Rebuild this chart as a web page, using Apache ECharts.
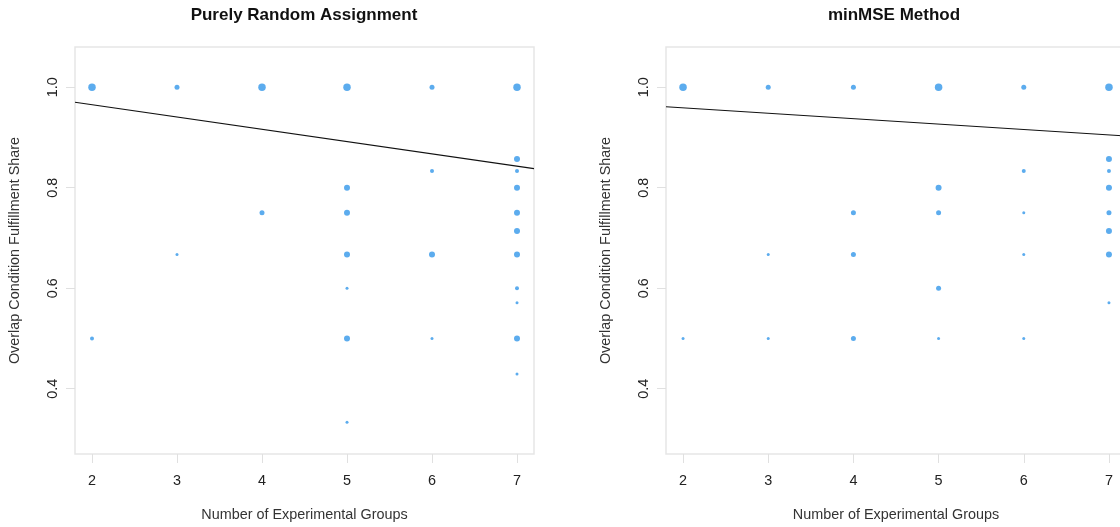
<!DOCTYPE html>
<html>
<head>
<meta charset="utf-8">
<script src="https://cdn.jsdelivr.net/npm/echarts@6/dist/echarts.min.js"></script>
<style>
html,body{margin:0;padding:0;background:#fff;overflow:hidden;}
#chart{width:1126px;height:527px;}
</style>
</head>
<body>
<div id="chart"></div>
<script>
// ---- data ----
var panelTitles = ['Purely Random Assignment', 'minMSE Method'];
var xTicks = [2, 3, 4, 5, 6, 7];
var yTicks = [0.4, 0.6, 0.8, 1.0];
var xName = 'Number of Experimental Groups';
var yName = 'Overlap Condition Fulfillment Share';

// Purely random assignment: groups, share, relative frequency weight
var randomGroups = [2, 3, 4, 5, 6, 7, 7, 6, 7, 5, 7, 4, 5, 7, 7, 3, 5, 6, 7, 5, 7, 7, 2, 5, 6, 7, 7, 5];
var randomShare  = [1.0, 1.0, 1.0, 1.0, 1.0, 1.0, 0.857, 0.833, 0.833, 0.8, 0.8, 0.75, 0.75, 0.75, 0.714, 0.667, 0.667, 0.667, 0.667, 0.6, 0.6, 0.571, 0.5, 0.5, 0.5, 0.5, 0.429, 0.333];
var randomWeight = [5, 3, 5, 5, 3, 5, 4, 2, 2, 4, 4, 3, 4, 4, 4, 1, 4, 4, 4, 1, 2, 1, 2, 4, 1, 4, 1, 1];

// minMSE method
var minmseGroups = [2, 3, 4, 5, 6, 7, 7, 6, 7, 5, 7, 4, 5, 6, 7, 7, 3, 4, 6, 7, 5, 7, 2, 3, 4, 5, 6];
var minmseShare  = [1.0, 1.0, 1.0, 1.0, 1.0, 1.0, 0.857, 0.833, 0.833, 0.8, 0.8, 0.75, 0.75, 0.75, 0.75, 0.714, 0.667, 0.667, 0.667, 0.667, 0.6, 0.571, 0.5, 0.5, 0.5, 0.5, 0.5];
var minmseWeight = [5, 3, 3, 5, 3, 5, 4, 2, 2, 4, 4, 3, 3, 1, 3, 4, 1, 3, 1, 4, 3, 1, 1, 1, 3, 1, 1];

// fitted regression lines (endpoints at plot x-range)
var fitX = [1.8, 7.2];
var fitRandom = [0.970, 0.838];
var fitMinmse = [0.961, 0.903];

// ---- chart ----
var FONT = '"Liberation Sans", Arial, sans-serif';
var DOT = '#5CACEE';
var sizeMap = {1: 3, 2: 4, 3: 5, 4: 6, 5: 7.5};

function pts(xs, ys, ws) {
  return xs.map(function (x, i) { return [x, ys[i], ws[i]]; });
}
function line(ys) {
  return fitX.map(function (x, i) { return [x, ys[i]]; });
}

var grids = [
  {left: 75, top: 47, width: 459, height: 409},
  {left: 666, top: 47, width: 460, height: 409}
];

function xAxis(idx) {
  return {
    gridIndex: idx, type: 'value', min: 1.8, max: 7.2,
    axisLine: {show: false},
    splitLine: {show: false},
    axisTick: {show: true, length: 9, customValues: xTicks, lineStyle: {color: '#e0e0e0', width: 1}},
    axisLabel: {customValues: xTicks, color: '#222', fontSize: 14.4, fontFamily: FONT, margin: 20},
    name: xName, nameLocation: 'middle', nameGap: 54,
    nameTextStyle: {color: '#333', fontSize: 14.4, fontFamily: FONT}
  };
}
function yAxis(idx) {
  return {
    gridIndex: idx, type: 'value', min: 0.27, max: 1.08,
    axisLine: {show: false},
    splitLine: {show: false},
    axisTick: {show: true, length: 9, customValues: yTicks, lineStyle: {color: '#e0e0e0', width: 1}},
    axisLabel: {customValues: yTicks, rotate: 90, color: '#222', fontSize: 14.4, fontFamily: FONT, margin: 15,
      formatter: function (v) { return Number(v).toFixed(1); }},
    name: yName, nameLocation: 'middle', nameGap: 53,
    nameTextStyle: {color: '#333', fontSize: 14.4, fontFamily: FONT}
  };
}

var chart = echarts.init(document.getElementById('chart'), null, {renderer: 'canvas'});
chart.setOption({
  animation: false,
  backgroundColor: '#fff',
  title: [
    {text: panelTitles[0], left: 299, top: 2, textAlign: 'center',
     textStyle: {fontSize: 17, fontWeight: 'bold', color: '#111', fontFamily: FONT}},
    {text: panelTitles[1], left: 889, top: 2, textAlign: 'center',
     textStyle: {fontSize: 17, fontWeight: 'bold', color: '#111', fontFamily: FONT}}
  ],
  grid: grids.map(function (g) {
    return Object.assign({show: true, borderColor: '#e6e6e6', borderWidth: 1.5, backgroundColor: 'transparent'}, g);
  }),
  xAxis: [xAxis(0), xAxis(1)],
  yAxis: [yAxis(0), yAxis(1)],
  series: [
    {type: 'scatter', xAxisIndex: 0, yAxisIndex: 0, data: pts(randomGroups, randomShare, randomWeight),
     symbol: 'circle', symbolSize: function (d) { return sizeMap[d[2]]; },
     itemStyle: {color: DOT, opacity: 1}, z: 3},
    {type: 'line', xAxisIndex: 0, yAxisIndex: 0, data: line(fitRandom), symbol: 'none',
     lineStyle: {color: '#111', width: 1.1}, z: 2},
    {type: 'scatter', xAxisIndex: 1, yAxisIndex: 1, data: pts(minmseGroups, minmseShare, minmseWeight),
     symbol: 'circle', symbolSize: function (d) { return sizeMap[d[2]]; },
     itemStyle: {color: DOT, opacity: 1}, z: 3},
    {type: 'line', xAxisIndex: 1, yAxisIndex: 1, data: line(fitMinmse), symbol: 'none',
     lineStyle: {color: '#111', width: 1.1}, z: 2}
  ]
});
</script>
</body>
</html>
